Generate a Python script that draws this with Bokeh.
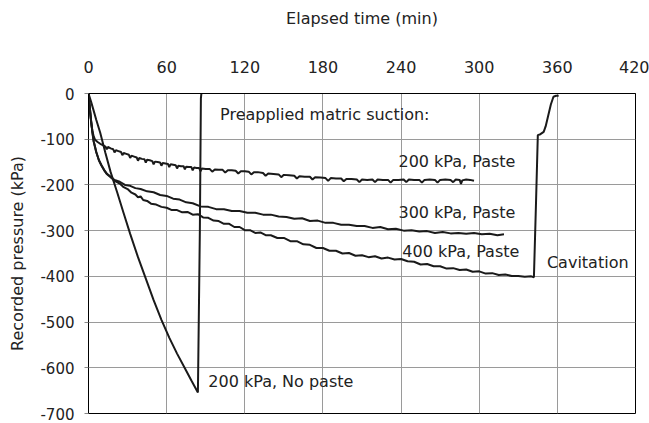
from bokeh.plotting import figure
from bokeh.models import Range1d, FixedTicker, ColumnDataSource
from bokeh.core.properties import value
from bokeh.embed import file_html
from bokeh.resources import INLINE

# ---------------- data ----------------
x_ticks = [0, 60, 120, 180, 240, 300, 360, 420]
y_ticks = [0, -100, -200, -300, -400, -500, -600, -700]
y_tick_labels = ["0", "-100", "-200", "-300", "-400", "-500", "-600", "-700"]

# 200 kPa, No paste
nopaste_t = [0, 2, 4, 6, 9, 13, 17, 22, 27, 32, 38, 44, 50, 56, 62, 68, 74, 79, 84,
             85.5, 86.3, 86.8, 87.6]
nopaste_p = [0, -18, -38, -58, -86, -130, -172, -216, -262, -307, -358, -405, -452, -495,
             -534, -569, -601, -628, -654, -300, -10, 3, 4]

# 200 kPa, Paste
p200_t = [0, 1, 2, 3, 4, 5, 7, 9, 11, 13, 14, 15, 17, 19, 20, 21, 23, 25, 26, 27, 29, 31, 32,
          33, 35, 37, 38, 39, 41, 43, 44, 45, 47, 49, 50, 51, 53, 55, 56, 57, 59, 61, 62, 63,
          65, 67, 68, 69, 71, 73, 74, 75, 77, 79, 80, 81, 83, 85, 86, 87, 90, 93, 95, 97, 100,
          103, 105, 107, 110, 113, 115, 117, 120, 123, 125, 127, 130, 134, 136, 138, 142, 146,
          148, 150, 154, 158, 160, 162, 166, 170, 172, 174, 178, 182, 184, 186, 190, 194, 196,
          198, 202, 206, 208, 210, 214, 218, 220, 222, 226, 230, 232, 234, 238, 242, 244, 246,
          250, 254, 256, 258, 262, 266, 268, 270, 274, 278, 280, 282, 285, 286, 287, 290, 293,
          296]
p200_p = [0, -35, -62, -82, -94, -101, -106, -110, -113, -116, -122, -117, -120, -122, -129,
          -124, -126, -128, -135, -130, -132, -134, -141, -136, -138, -140, -147, -141, -143,
          -144, -151, -145, -146, -148, -155, -149, -150, -151, -158, -152, -153, -154, -161,
          -155, -156, -157, -164, -158, -159, -159, -166, -160, -161, -161, -168, -162, -163,
          -163, -170, -164, -165, -165, -171, -166, -167, -167, -173, -168, -168, -169, -175,
          -170, -170, -171, -177, -172, -172, -174, -180, -175, -176, -177, -183, -178, -179,
          -180, -186, -181, -182, -182, -188, -183, -184, -185, -191, -185, -186, -186, -192,
          -187, -187, -188, -194, -188, -189, -188, -194, -188, -189, -189, -195, -189, -189,
          -188, -194, -188, -189, -189, -195, -189, -188, -189, -195, -189, -188, -189, -194,
          -188, -189, -198, -190, -188, -189, -191]

# 300 kPa, Paste
p300_t = [0, 1, 2, 3, 4, 6, 8, 10, 12, 14, 17, 20, 24, 28, 32, 36, 40, 45, 50, 55, 60, 65, 70,
          75, 80, 86, 92, 98, 104, 110, 116, 122, 128, 134, 140, 146, 152, 158, 164, 170, 176,
          182, 188, 194, 200, 206, 212, 218, 224, 230, 236, 242, 248, 254, 260, 266, 272, 278,
          284, 290, 296, 302, 308, 314, 319]
p300_p = [0, -30, -60, -85, -105, -128, -146, -158, -168, -175, -182, -189, -193, -200, -202,
          -207, -209, -214, -216, -222, -224, -230, -232, -238, -240, -247, -248, -253, -253,
          -257, -257, -261, -261, -265, -265, -269, -270, -274, -273, -279, -278, -283, -283,
          -287, -287, -290, -290, -294, -292, -297, -296, -300, -299, -302, -301, -305, -303,
          -306, -305, -307, -305, -308, -307, -310, -308]

# 400 kPa, Paste (with cavitation)
p400_t = [0, 1, 2, 3, 4, 6, 8, 10, 12, 14, 17, 20, 24, 27, 30, 33, 36, 38, 40, 42, 45, 48, 52,
          56, 60, 64, 68, 72, 76, 80, 84, 88, 92, 96, 100, 104, 108, 112, 116, 120, 124, 128,
          132, 136, 140, 145, 150, 155, 160, 165, 170, 175, 180, 185, 190, 195, 200, 205, 210,
          215, 220, 225, 230, 235, 240, 245, 250, 255, 260, 265, 270, 275, 280, 285, 290, 295,
          300, 305, 310, 315, 320, 325, 330, 335, 340, 342, 343.5, 345, 347, 349.5, 351, 353,
          355, 357, 359, 361]
p400_p = [0, -30, -60, -85, -105, -129, -146, -157, -167, -176, -183, -191, -197, -205, -209,
          -217, -221, -227, -225, -233, -235, -241, -243, -248, -250, -255, -255, -260, -259,
          -265, -264, -271, -272, -278, -279, -285, -285, -292, -292, -299, -299, -305, -304,
          -310, -310, -316, -316, -323, -323, -330, -331, -338, -338, -344, -344, -350, -349,
          -355, -354, -358, -356, -361, -359, -363, -362, -367, -368, -374, -373, -378, -378,
          -383, -382, -386, -385, -390, -389, -394, -393, -397, -396, -399, -399, -401, -400,
          -402, -250, -91, -89, -84, -72, -48, -24, -7, -5, -5]

label_texts = ["Preapplied matric suction:", "200 kPa, Paste", "300 kPa, Paste",
               "400 kPa, Paste", "Cavitation", "200 kPa, No paste"]
label_t = [101, 238, 238, 241, 352, 92]
label_p = [-47, -149, -261, -346, -370, -630]

# ---------------- figure ----------------
FONT = "DejaVu Sans"
TXT = "#222222"
LINE = "#1a1a1a"

p = figure(width=649, height=423, x_range=Range1d(0, 420), y_range=Range1d(-700, 0),
           x_axis_location="above", toolbar_location=None, output_backend="svg",
           min_border_left=88, min_border_right=14, min_border_top=93, min_border_bottom=10)

p.background_fill_color = "white"
p.border_fill_color = "white"
p.outline_line_color = "black"
p.outline_line_width = 1

xa = p.xaxis[0]
xa.ticker = FixedTicker(ticks=x_ticks)
xa.axis_label = "Elapsed time (min)"
xa.axis_label_text_font = FONT
xa.axis_label_text_font_size = "16px"
xa.axis_label_text_font_style = "normal"
xa.axis_label_text_color = TXT
xa.axis_label_standoff = 30
xa.major_label_text_font = FONT
xa.major_label_text_font_size = "16px"
xa.major_label_text_color = TXT
xa.major_label_standoff = 21
xa.major_tick_out = 0
xa.major_tick_in = 0
xa.minor_tick_out = 0
xa.minor_tick_in = 0
xa.axis_line_color = "black"

ya = p.yaxis[0]
ya.ticker = FixedTicker(ticks=y_ticks)
ya.major_label_overrides = {t: s for t, s in zip(y_ticks, y_tick_labels)}
ya.axis_label = "Recorded pressure (kPa)"
ya.axis_label_text_font = FONT
ya.axis_label_text_font_size = "16px"
ya.axis_label_text_font_style = "normal"
ya.axis_label_text_color = TXT
ya.axis_label_standoff = 10
ya.major_label_text_font = FONT
ya.major_label_text_font_size = "15px"
ya.major_label_text_color = TXT
ya.major_label_standoff = 10
ya.major_tick_out = 4
ya.major_tick_in = 0
ya.major_tick_line_color = "#888888"
ya.minor_tick_out = 0
ya.minor_tick_in = 0
ya.axis_line_color = "black"

p.xgrid.ticker = FixedTicker(ticks=x_ticks)
p.ygrid.ticker = FixedTicker(ticks=y_ticks)
p.xgrid.grid_line_color = "#9a9a9a"
p.ygrid.grid_line_color = "#9a9a9a"

for ts, ps in [(nopaste_t, nopaste_p), (p200_t, p200_p), (p300_t, p300_p), (p400_t, p400_p)]:
    p.line(ts, ps, line_color=LINE, line_width=2)

src = ColumnDataSource(dict(x=label_t, y=label_p, text=label_texts))
p.text(x="x", y="y", text="text", source=src, text_font=value(FONT),
       text_font_size="16px", text_color=TXT, text_align="left", text_baseline="middle")

open("out.html", "w").write(file_html(p, INLINE))
